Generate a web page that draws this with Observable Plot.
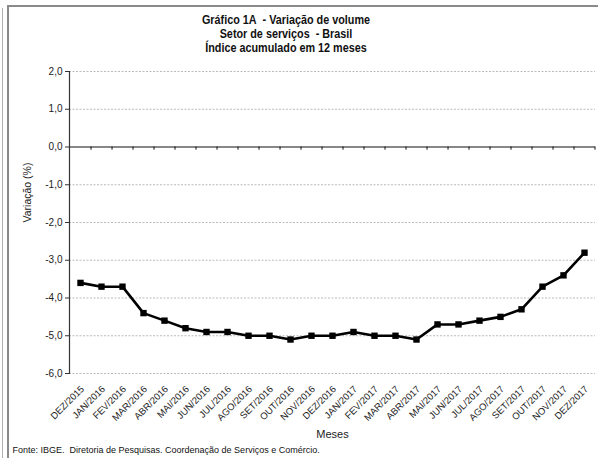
<!DOCTYPE html>
<html>
<head>
<meta charset="utf-8">
<script src="https://cdn.jsdelivr.net/npm/d3@7"></script>
<script src="https://cdn.jsdelivr.net/npm/@observablehq/plot@0.6"></script>
<style>
  body { margin: 0; background: #fff; }
  #wrap { position: relative; width: 598px; height: 458px; overflow: hidden; font-family: "Liberation Sans", Arial, sans-serif; }
  #frame { position: absolute; left: 7px; top: 5px; width: 620px; height: 500px; border-left: 2px solid #8a8a8a; border-top: 2px solid #8a8a8a; }
  #frame2 { position: absolute; left: 2px; top: 8px; width: 1px; height: 460px; background: #b0b0b0; }
  #title { position: absolute; left: 0; top: 13px; width: 572px; text-align: center; font-family: "Liberation Sans", Arial, sans-serif; font-weight: bold; font-size: 12px; line-height: 14px; color: #111; transform: scaleX(0.9); transform-origin: 286px 0; }
  #chart { position: absolute; left: 0; top: 0; }
</style>
</head>
<body>
<div id="wrap">
  <div id="frame2"></div>
  <div id="frame"></div>
  <div id="title">Gráfico 1A&nbsp; - Variação de volume<br>Setor de serviços&nbsp; - Brasil<br>Índice acumulado em 12 meses</div>
  <div id="chart"></div>
</div>
<script>
const months = ["DEZ/2015","JAN/2016","FEV/2016","MAR/2016","ABR/2016","MAI/2016","JUN/2016","JUL/2016","AGO/2016","SET/2016","OUT/2016","NOV/2016","DEZ/2016","JAN/2017","FEV/2017","MAR/2017","ABR/2017","MAI/2017","JUN/2017","JUL/2017","AGO/2017","SET/2017","OUT/2017","NOV/2017","DEZ/2017"];
const values = [-3.6,-3.7,-3.7,-4.4,-4.6,-4.8,-4.9,-4.9,-5.0,-5.0,-5.1,-5.0,-5.0,-4.9,-5.0,-5.0,-5.1,-4.7,-4.7,-4.6,-4.5,-4.3,-3.7,-3.4,-2.8];
const yTicks = [2,1,0,-1,-2,-3,-4,-5,-6];
const yLabel = "Variação (%)";
const xLabel = "Meses";
const source = "Fonte: IBGE.  Diretoria de Pesquisas. Coordenação de Serviços e Comércio.";

const data = months.map((m, i) => ({month: m, value: values[i]}));
const W = 598, H = 458, mL = 69, mR = 3, mT = 71, mB = 85;
const step = (W - mL - mR) / months.length;
const fmt = d => d.toFixed(1).replace(".", ",");

const chart = Plot.plot({
  width: W, height: H,
  marginLeft: mL, marginRight: mR, marginTop: mT, marginBottom: mB,
  style: {fontFamily: "'Liberation Sans', Arial, sans-serif", fontSize: "10px", color: "#222", background: "transparent"},
  x: {type: "point", domain: months, padding: 0.5, axis: null},
  y: {domain: [-6, 2]},
  marks: [
    Plot.gridY(yTicks.filter(d => d !== 0), {stroke: "#a8a8a8", strokeOpacity: 1, strokeDasharray: "2,1.5", strokeWidth: 0.8}),
    Plot.ruleY([0], {stroke: "#111", strokeWidth: 1}),
    Plot.ruleX(months, {x: d => d, y1: 0, y2: -0.085, dx: step / 2, stroke: "#111", strokeWidth: 1}),
    Plot.frame({anchor: "left", stroke: "#333", strokeWidth: 1.2}),
    Plot.axisY(yTicks, {tickFormat: fmt, tickSize: 4, tickPadding: 3, label: null, fontSize: 10, stroke: "#333"}),
    Plot.text(months, {x: d => d, frameAnchor: "bottom", dy: 14, dx: 2, rotate: -45, textAnchor: "end", lineAnchor: "middle", fontSize: 9.5, fill: "#222"}),
    Plot.line(data, {x: "month", y: "value", stroke: "#000", strokeWidth: 2.6}),
    Plot.dot(data, {x: "month", y: "value", symbol: "square", r: 3.6, fill: "#000", stroke: "none"}),
    Plot.text([yLabel], {frameAnchor: "left", dx: -42, rotate: -90, fontSize: 10.5, fill: "#222"}),
    Plot.text([xLabel], {frameAnchor: "bottom", dy: 64, fontSize: 11, fill: "#222"}),
    Plot.text([source], {frameAnchor: "bottom-left", textAnchor: "start", dx: -57, dy: 79, fontSize: 9, fill: "#111"})
  ]
});
document.getElementById("chart").appendChild(chart);
</script>
</body>
</html>
